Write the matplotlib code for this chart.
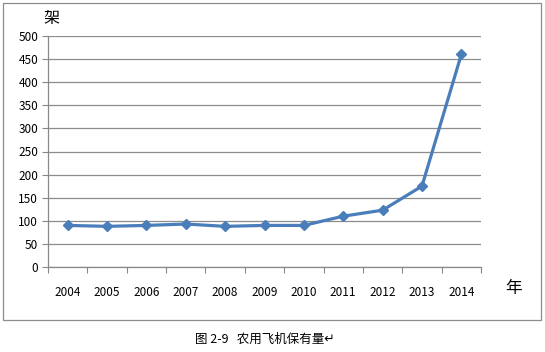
import matplotlib.pyplot as plt
from matplotlib.patches import Rectangle

plt.rcParams['font.family'] = ['Noto Sans CJK SC', 'DejaVu Sans']

years = ["2004", "2005", "2006", "2007", "2008", "2009", "2010", "2011", "2012", "2013", "2014"]
counts = [90, 88, 90, 93, 88, 90, 90, 110, 123, 175, 460]
yticks = [0, 50, 100, 150, 200, 250, 300, 350, 400, 450, 500]

fig = plt.figure(figsize=(5.45, 3.52), dpi=100)
fig.patch.set_facecolor("white")

# outer chart border
fig.patches.append(Rectangle((3/545, 1-320/352), 538/545, 317/352, transform=fig.transFigure,
                             fill=False, edgecolor="#8c8c8c", linewidth=0.9))

ax = fig.add_axes([48/545, 1-267/352, 433/545, 231/352])
x = range(len(years))
ax.plot(x, counts, color="#4a7ebb", linewidth=2.3, marker="D", markersize=5.5, zorder=3)

ax.set_xlim(-0.5, len(years)-0.5)
ax.set_ylim(0, 500)
ax.set_yticks(yticks)
ax.set_xticks(x)
ax.set_xticklabels(years)
ax.set_xticks([i-0.5 for i in range(len(years)+1)], minor=True)
ax.tick_params(axis="x", which="major", length=0, pad=14, labelsize=8.5)
ax.tick_params(axis="x", which="minor", length=4, width=0.8, color="#888888", direction="out")
ax.tick_params(axis="y", length=4, width=0.8, color="#888888", labelsize=8.5, pad=3)
ax.yaxis.grid(True, color="#8c8c8c", linewidth=0.9)
ax.set_axisbelow(True)
for s in ["top", "right"]:
    ax.spines[s].set_visible(False)
for s in ["left", "bottom"]:
    ax.spines[s].set_color("#888888")
    ax.spines[s].set_linewidth(0.9)

fig.text(43/545, 1-19/352, "架", fontsize=11.5, ha="left", va="center")
fig.text(514/545, 1-288/352, "年", fontsize=12, ha="center", va="center")
fig.text(265/545, 1-339/352, "图 2-9   农用飞机保有量↵", fontsize=9, ha="center", va="center")

fig.savefig("out.png", dpi=100)
